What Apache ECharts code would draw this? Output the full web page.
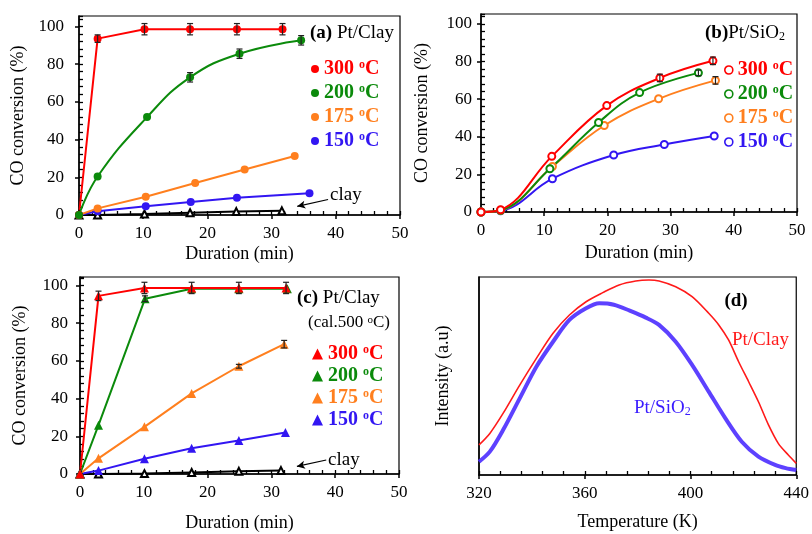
<!DOCTYPE html>
<html>
<head>
<meta charset="utf-8">
<script src="https://cdn.jsdelivr.net/npm/echarts@6/dist/echarts.min.js"></script>
<style>
  html, body { margin: 0; padding: 0; background: #fff; }
  #chart { width: 812px; height: 534px; }
</style>
</head>
<body>
<div id="chart"></div>
<script>
// ---------- (a) Pt/Clay : CO conversion (%) vs duration (min) ----------
const aTime300 = [0, 2.9, 10.2, 17.3, 24.6, 31.7];
const aConv300 = [0, 93.5, 98.5, 98.5, 98.5, 98.5];
const aErr300  = [0, 2.0, 3.0, 3.0, 3.0, 3.0];
const aTime200 = [0, 2.9, 10.6, 17.3, 25.0, 34.6];
const aConv200 = [0, 20.4, 51.9, 73.0, 85.5, 92.6];
const aErr200  = [0, 0, 0, 2.5, 2.5, 2.5];
const aTime175 = [0, 2.9, 10.4, 18.1, 25.8, 33.6];
const aConv175 = [0, 3.5, 9.7, 17.0, 24.1, 31.3];
const aTime150 = [0, 2.9, 10.4, 17.4, 24.6, 35.9];
const aConv150 = [0, 2.0, 4.6, 6.9, 9.2, 11.5];
const aTimeClay = [0, 2.9, 10.2, 17.3, 24.5, 31.6];
const aConvClay = [0, 0, 0.5, 1.2, 1.8, 2.2];

// ---------- (b) Pt/SiO2 ----------
const bTime300 = [0, 3.1, 11.2, 19.9, 28.3, 36.7];
const bConv300 = [0, 1.2, 29.6, 56.6, 71.3, 80.4];
const bErr300  = [0, 0, 0, 0, 2.0, 2.0];
const bTime200 = [0, 3.1, 10.9, 18.6, 25.1, 34.4];
const bConv200 = [0, 0.9, 23.0, 47.6, 63.5, 74.0];
const bErr200  = [0, 0, 0, 0, 0, 1.5];
const bTime175 = [0, 3.1, 11.3, 19.5, 28.1, 37.1];
const bConv175 = [0, 0.8, 24.2, 46.0, 60.2, 70.0];
const bErr175  = [0, 0, 0, 0, 0, 2.0];
const bTime150 = [0, 3.1, 11.3, 21.0, 29.0, 36.9];
const bConv150 = [0, 0.6, 17.7, 30.3, 35.9, 40.4];

// ---------- (c) Pt/Clay calcined at 500 oC ----------
const cTime300 = [0, 2.9, 10.1, 17.5, 24.9, 32.3];
const cConv300 = [0, 94.4, 98.6, 98.6, 98.6, 98.6];
const cErr300  = [0, 2.5, 3.0, 3.0, 3.0, 3.0];
const cTime200 = [0, 2.9, 10.2, 17.5, 24.9, 32.5];
const cConv200 = [0, 25.9, 92.9, 98.2, 98.2, 98.2];
const cErr200  = [0, 0, 1.5, 0, 0, 0];
const cTime175 = [0, 2.9, 10.1, 17.5, 24.9, 32.0];
const cConv175 = [0, 8.3, 25.0, 42.7, 57.1, 68.8];
const cErr175  = [0, 0, 0, 0, 1.0, 2.0];
const cTime150 = [0, 2.9, 10.1, 17.5, 24.9, 32.2];
const cConv150 = [0, 1.8, 8.1, 13.6, 17.8, 22.0];
const cTimeClay = [0, 2.9, 10.1, 17.5, 24.9, 31.5];
const cConvClay = [0, 0, 0.2, 0.8, 1.4, 1.8];

// ---------- (d) TPR profiles: intensity (a.u.) vs temperature (K) ----------
const dTempClay = [320, 324.1, 329.1, 335.4, 341.7, 348.0, 354.2, 360.5, 366.8, 373.0, 379.3, 384.3,
                   388.1, 394.4, 400.6, 406.9, 410.7, 414.4, 418.2, 422.0, 425.7, 429.5, 433.2, 437.0, 440];
const dIntClay  = [15.2, 21.0, 31.1, 45.4, 58.9, 71.6, 80.8, 87.5, 92.1, 96.0, 98.0, 98.5,
                   98.0, 95.1, 90.1, 81.7, 75.8, 68.2, 57.2, 47.1, 37.0, 25.3, 16.0, 10.1, 5.9];
const dTempSiO2 = [320, 324.1, 329.1, 335.4, 341.7, 348.0, 354.2, 360.5, 365.5, 371.0, 377.0,
                   383.1, 388.1, 394.4, 400.6, 406.9, 413.2, 419.4, 425.7, 432.0, 436.0, 440];
const dIntSiO2  = [6.7, 11.8, 22.7, 38.7, 54.7, 67.3, 78.3, 84.2, 86.7, 86.0, 83.0,
                   79.5, 75.8, 67.3, 55.6, 42.1, 28.6, 16.8, 9.3, 5.1, 3.5, 2.5];

const tempLabels = ['300', '200', '175', '150'];

const FONT = 'Liberation Serif';
const RED = '#ff0000', GREEN = '#0b8a0b', ORANGE = '#ff7f1e', BLUE = '#3216f2';
const TEMP_COLORS = [RED, GREEN, ORANGE, BLUE];

const grids = [
  { left: 79,  top: 16,  width: 321, height: 199 },
  { left: 481, top: 14,  width: 316, height: 198 },
  { left: 80,  top: 277, width: 319, height: 197 },
  { left: 479, top: 277, width: 319, height: 198 }
].map(g => Object.assign(g, { show: true, borderColor: '#000', borderWidth: 1.2, backgroundColor: 'transparent', containLabel: false }));

const labelStyle = { fontFamily: FONT, fontSize: 17, color: '#000' };
const nameStyle = { fontFamily: FONT, fontSize: 18, color: '#000' };

// primary axes: labels, names, and outward major ticks
function mainAxis(gi, pos, min, max, interval, name, nameGap, margin, showLabels) {
  return {
    type: 'value', gridIndex: gi, position: pos, min, max, interval,
    name, nameLocation: 'middle', nameGap, nameTextStyle: nameStyle,
    axisLine: { show: true, onZero: false, lineStyle: { color: '#000', width: 1.5 } },
    axisTick: { show: showLabels, inside: false, length: 4, lineStyle: { color: '#000', width: 1.5 } },
    axisLabel: { show: showLabels, margin, showMaxLabel: pos === 'left' ? (max % interval === 0) : true, ...labelStyle },
    splitLine: { show: false }
  };
}
// secondary axes: inward ticks at the minor spacing
function minorAxis(gi, pos, min, max, interval) {
  return {
    type: 'value', gridIndex: gi, position: pos, min, max, interval,
    axisLine: { show: false, onZero: false },
    axisTick: { show: true, inside: true, length: 4, lineStyle: { color: '#000', width: 1.3 } },
    axisLabel: { show: false },
    splitLine: { show: false }
  };
}

const xAxis = [
  mainAxis(0, 'bottom', 0, 50, 10, 'Duration (min)', 30, 10, true),
  mainAxis(1, 'bottom', 0, 50, 10, 'Duration (min)', 32, 10, true),
  mainAxis(2, 'bottom', 0, 50, 10, 'Duration (min)', 40, 10, true),
  mainAxis(3, 'bottom', 320, 440, 40, 'Temperature (K)', 38, 10, true),
  minorAxis(0, 'bottom', 0, 50, 2),
  minorAxis(1, 'bottom', 0, 50, 2),
  minorAxis(2, 'bottom', 0, 50, 2),
  minorAxis(3, 'bottom', 320, 440, 8)
];
const yAxis = [
  mainAxis(0, 'left', 0, 105.5, 20, 'CO conversion (%)', 52, 15, true),
  mainAxis(1, 'left', 0, 105.3, 20, 'CO conversion (%)', 50, 9, true),
  mainAxis(2, 'left', 0, 104.4, 20, 'CO conversion (%)', 51, 12, true),
  mainAxis(3, 'left', 0, 100, 20, 'Intensity (a.u)', 27, 8, false),
  minorAxis(0, 'left', 0, 105.5, 4),
  minorAxis(1, 'left', 0, 105.3, 4),
  minorAxis(2, 'left', 0, 104.4, 4)
];

function zip(xs, ys) { return xs.map((x, i) => [x, ys[i]]); }

function lineSeries(name, gi, xs, ys, color, symbol, size, smooth, empty) {
  return {
    name, type: 'line', xAxisIndex: gi, yAxisIndex: gi,
    data: zip(xs, ys), symbol, symbolSize: size, smooth,
    lineStyle: { color, width: 2 },
    itemStyle: empty ? { color, borderColor: color, borderWidth: 1.5 } : { color, borderWidth: 0 },
    emphasis: { disabled: true }, animation: false, z: 2
  };
}

function errorBars(gi, xs, ys, es, color) {
  const data = [];
  xs.forEach((x, i) => { if (es[i] > 0) data.push([x, ys[i] - es[i], ys[i] + es[i]]); });
  return {
    type: 'custom', xAxisIndex: gi, yAxisIndex: gi, data, silent: true, z: 4, animation: false,
    encode: { x: 0, y: [1, 2] },
    renderItem(params, api) {
      const x = api.value(0);
      const lo = api.coord([x, api.value(1)]);
      const hi = api.coord([x, api.value(2)]);
      const w = 3, st = { stroke: color, lineWidth: 1.2 };
      return {
        type: 'group', children: [
          { type: 'line', shape: { x1: lo[0], y1: lo[1], x2: hi[0], y2: hi[1] }, style: st },
          { type: 'line', shape: { x1: lo[0] - w, y1: lo[1], x2: lo[0] + w, y2: lo[1] }, style: st },
          { type: 'line', shape: { x1: hi[0] - w, y1: hi[1], x2: hi[0] + w, y2: hi[1] }, style: st }
        ]
      };
    }
  };
}

function clayArrow(from, to) {
  return {
    silent: true, animation: false, symbolSize: [6, 8],
    lineStyle: { color: '#000', width: 1.2, type: 'solid' },
    label: { show: false },
    data: [[{ coord: from, symbol: 'none' }, { coord: to, symbol: 'arrow' }]]
  };
}

const aClay = lineSeries('a-clay', 0, aTimeClay, aConvClay, '#000', 'emptyTriangle', 7, false, true);
aClay.markLine = clayArrow([38.8, 8.2], [34.0, 4.6]);
const cClay = lineSeries('c-clay', 2, cTimeClay, cConvClay, '#000', 'emptyTriangle', 7, false, true);
cClay.markLine = clayArrow([38.6, 7.4], [34.0, 4.0]);

const series = [
  // (a)
  aClay,
  lineSeries('a150', 0, aTime150, aConv150, BLUE, 'circle', 8, false),
  lineSeries('a175', 0, aTime175, aConv175, ORANGE, 'circle', 8, false),
  lineSeries('a300', 0, aTime300, aConv300, RED, 'circle', 8, false),
  lineSeries('a200', 0, aTime200, aConv200, GREEN, 'circle', 8, 0.45),
  errorBars(0, aTime300, aConv300, aErr300, '#222'),
  errorBars(0, aTime200, aConv200, aErr200, '#222'),
  // (b)
  lineSeries('b150', 1, bTime150, bConv150, BLUE, 'emptyCircle', 7, 0.4, true),
  lineSeries('b175', 1, bTime175, bConv175, ORANGE, 'emptyCircle', 7, 0.4, true),
  lineSeries('b200', 1, bTime200, bConv200, GREEN, 'emptyCircle', 7, 0.4, true),
  lineSeries('b300', 1, bTime300, bConv300, RED, 'emptyCircle', 7, 0.4, true),
  errorBars(1, bTime300, bConv300, bErr300, '#222'),
  errorBars(1, bTime200, bConv200, bErr200, '#222'),
  errorBars(1, bTime175, bConv175, bErr175, '#222'),
  // (c)
  cClay,
  lineSeries('c150', 2, cTime150, cConv150, BLUE, 'triangle', 9, false),
  lineSeries('c175', 2, cTime175, cConv175, ORANGE, 'triangle', 9, false),
  lineSeries('c200', 2, cTime200, cConv200, GREEN, 'triangle', 9, false),
  lineSeries('c300', 2, cTime300, cConv300, RED, 'triangle', 9, false),
  errorBars(2, cTime300, cConv300, cErr300, '#222'),
  errorBars(2, cTime200, cConv200, cErr200, '#222'),
  errorBars(2, cTime175, cConv175, cErr175, '#222'),
  // (d)
  {
    name: 'd-sio2', type: 'line', xAxisIndex: 3, yAxisIndex: 3, data: zip(dTempSiO2, dIntSiO2),
    symbol: 'none', smooth: 0.3, lineStyle: { color: '#4b2cff', width: 4, opacity: 0.9 },
    emphasis: { disabled: true }, animation: false
  },
  {
    name: 'd-clay', type: 'line', xAxisIndex: 3, yAxisIndex: 3, data: zip(dTempClay, dIntClay),
    symbol: 'none', smooth: 0.3, lineStyle: { color: '#ff1a1a', width: 1.6 },
    emphasis: { disabled: true }, animation: false
  }
];

function legendFor(prefix, left, top, gap, icon, size, empty) {
  return {
    left, top, orient: 'vertical', itemGap: gap, padding: 0, selectedMode: false,
    itemWidth: size, itemHeight: size,
    data: tempLabels.map((t, k) => ({
      name: prefix + t, icon,
      itemStyle: empty ? { color: '#fff', borderColor: TEMP_COLORS[k], borderWidth: 1.6 }
                       : { color: TEMP_COLORS[k], borderWidth: 0 },
      textStyle: { color: TEMP_COLORS[k] }
    })),
    formatter: n => n.slice(1) + ' {o|o}C',
    textStyle: {
      fontFamily: FONT, fontSize: 20, fontWeight: 'bold',
      rich: { o: { fontFamily: FONT, fontSize: 12, fontWeight: 'bold', verticalAlign: 'top' } }
    }
  };
}

function note(x, y, text, size, color, rich, align) {
  return {
    type: 'text', x, y, silent: true,
    style: {
      text, fill: color, fontFamily: FONT, fontSize: size,
      align: align || 'left', verticalAlign: 'middle', rich
    }
  };
}
const richBold = (s) => ({
  b: { fontFamily: FONT, fontSize: s, fontWeight: 'bold' },
  s: { fontFamily: FONT, fontSize: 12, verticalAlign: 'bottom' },
  o: { fontFamily: FONT, fontSize: 11, verticalAlign: 'top' }
});

const option = {
  backgroundColor: '#fff',
  animation: false,
  grid: grids,
  xAxis, yAxis,
  legend: [
    legendFor('a', 311, 59, 4, 'circle', 8, false),
    legendFor('b', 724, 60, 4, 'circle', 8, true),
    legendFor('c', 312, 344, 2, 'triangle', 11, false)
  ],
  series,
  graphic: [
    note(310, 33, '{b|(a)} Pt/Clay', 19, '#000', richBold(19)),
    note(330, 195, 'clay', 19, '#000'),
    note(705, 33, '{b|(b)}Pt/SiO{s|2}', 19, '#000', richBold(19)),
    note(297, 298, '{b|(c)} Pt/Clay', 19, '#000', richBold(19)),
    note(308, 323, '(cal.500 {o|o}C)', 17, '#000', richBold(17)),
    note(328, 460, 'clay', 19, '#000'),
    note(736, 301, '{b|(d)}', 19, '#000', richBold(19), 'center'),
    note(732, 340, 'Pt/Clay', 19, '#ff1a1a'),
    note(634, 408, 'Pt/SiO{s|2}', 19, '#3a1cff', richBold(19))
  ]
};

const chart = echarts.init(document.getElementById('chart'), null, { renderer: 'canvas' });
chart.setOption(option);
</script>
</body>
</html>
